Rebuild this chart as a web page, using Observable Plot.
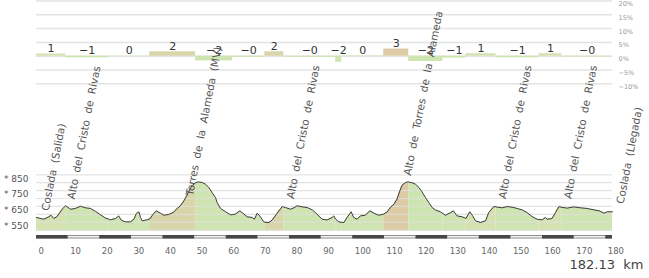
<!DOCTYPE html>
<html><head><meta charset="utf-8">
<script src="https://cdn.jsdelivr.net/npm/d3@7"></script>
<script src="https://cdn.jsdelivr.net/npm/@observablehq/plot@0.6"></script>
<style>
html,body{margin:0;padding:0;background:#fff;}
#chart{position:relative;width:649px;height:278px;overflow:hidden;}
#chart svg{position:absolute;left:0;top:0;}
</style></head><body><div id="chart"></div>
<script>
// ---- data ----
const totalKm = 182.13;
const profileKm = [0,2.3,3.9,4.6,5.5,6.5,8.1,9.2,9.7,10.8,12.3,13.9,15.5,17.1,18.7,20.2,21.8,22.8,23.4,25.0,26.0,26.8,28.1,29.7,30.8,31.6,32.4,32.9,33.4,34.5,35.8,36.9,37.9,39.2,40.3,41.8,43.2,44.5,45.5,46.6,47.6,48.5,49.2,50.3,51.3,52.4,53.4,54.5,55.5,56.6,57.1,58.2,59.8,61.3,62.0,62.9,64.3,65.6,66.6,68.2,68.9,69.8,70.6,71.9,72.2,73.5,74.5,76.1,77.7,78.2,78.7,80.3,81.4,82.4,84.0,85.6,87.2,88.7,90.3,91.9,93.5,94.0,94.6,95.6,96.5,97.2,98.2,99.5,100.3,101.4,102.4,104.0,105.4,106.7,108.2,109.8,110.9,111.9,113.0,114.0,114.9,115.6,116.7,117.4,117.7,118.5,119.8,120.9,121.9,123.0,124.0,125.1,126.1,127.7,128.5,129.3,131.0,131.8,133.0,134.6,135.8,137.0,137.8,138.8,140.4,142.0,143.0,144.6,145.3,145.7,147.3,148.8,150.4,152.0,153.6,155.1,156.7,158.3,158.9,159.9,160.9,161.5,163.0,164.1,165.2,166.1,167.8,169.9,172.0,174.1,176.3,177.9,179.5,180.5,182.13];
const profileElev = [580,569,584,594,573,586,632,654,647,632,637,651,641,637,618,597,576,570,565,573,590,563,552,552,569,605,616,580,559,563,570,601,622,607,594,599,611,637,654,685,721,759,780,801,805,801,791,770,738,706,675,637,616,597,598,601,622,601,584,580,569,607,590,552,550,548,563,607,649,646,643,632,641,654,647,643,628,601,569,564,580,590,569,552,549,548,580,616,580,569,590,594,622,607,594,601,616,643,664,696,749,784,801,805,804,801,791,770,742,706,675,643,628,616,605,594,611,622,590,584,574,616,594,559,548,559,611,649,647,645,641,649,645,637,628,611,586,569,567,565,580,569,573,611,649,644,639,647,641,637,628,622,607,616,616];
const areaBase = 493;

const segStart = [0,9.2,22.8,35.8,50.3,62.0,72.2,78.2,94.6,96.5,109.8,117.7,128.5,135.8,145.3,158.9,166.1];
const segEnd   = [9.2,22.8,35.8,50.3,62.0,72.2,78.2,94.6,96.5,109.8,117.7,128.5,135.8,145.3,158.9,166.1,182.13];
const segGrade = [0.8,-0.6,0.1,1.6,-1.7,-0.4,1.6,-0.4,-2.2,0.2,2.6,-1.9,-0.7,0.9,-0.6,0.9,-0.3];

const climbNames = ["Coslada  (Salida)","Alto  del  Cristo  de  Rivas","Torres  de  la  Alameda  (MV)","Alto  del  Cristo  de  Rivas","Alto  de  Torres  de  la  Alameda","Alto  del  Cristo  de  Rivas","Alto  del  Cristo  de  Rivas","Coslada  (Llegada)"];
const climbKm   = [2.8,11.0,48.4,80.3,117.3,147.3,168.0,184.6];
const climbElev = [624,696,719,700,846,700,700,668];

const elevGrid  = [500,550,600,650,700,750,800,850];
const elevTicks = [850,750,650,550];
const gradeTicks = [20,15,10,5,0,-5,-10];
const kmTicks = [0,10,20,30,40,50,60,70,80,90,100,110,120,130,140,150,160,170,180];

// ---- derived tables ----
const profile = profileKm.map((k,i)=>({km:k, elev:profileElev[i]}));
const segments = segStart.map((s,i)=>({start:s, end:segEnd[i], grade:segGrade[i], seg:i}));
const areaRows = segments.flatMap(s => profile.filter(p => p.km >= s.start-1e-9 && p.km <= s.end+1e-9).map(p => ({...p, seg:s.seg, grade:s.grade})));
const climbs = climbNames.map((n,i)=>({name:n, km:climbKm[i], elev:climbElev[i]}));
const barSegs = kmTicks.map((t,i)=>({a:t, b:Math.min(t+10,totalKm), dark:i%2===0}));

const colorOpts = {type:"threshold", domain:[0.5,1.5,2.5], range:["#cfe5b1","#d5e1af","#d8d5a8","#dccba4"]};
const gradeLabel = g => (g < 0 ? "\u2212" : "") + Math.abs(Math.round(g));
const pctLabel = d => (d < 0 ? "\u2212" : "") + Math.abs(d) + "%";
const font = "DejaVu Sans, sans-serif";
const W = 649, mL = 36, mR = 37;
const chart = document.getElementById("chart");

// ---- top: gradient panel ----
const gradePlot = Plot.plot({
  width: W, height: 90, marginLeft: mL, marginRight: mR, marginTop: 0.5, marginBottom: 6.7,
  x: {domain:[0,totalKm], axis:null},
  y: {domain:[-10,20], axis:null},
  color: colorOpts,
  style: {background:"transparent", fontFamily: font, overflow:"visible"},
  marks: [
    Plot.ruleY(gradeTicks, {y:d=>d, stroke:"#e3e3e3", strokeWidth:1.5}),
    Plot.rect(segments, {x1:"start", x2:"end", y1:0, y2:"grade", fill:"grade"}),
    Plot.text(segments, {x:d=>(d.start+d.end)/2, y:d=>Math.max(0,d.grade), text:d=>gradeLabel(d.grade), dy:-5.5, fontSize:11, fill:"#333"}),
    Plot.text(gradeTicks, {y:d=>d, text:pctLabel, frameAnchor:"right", textAnchor:"start", dx:6, dy:3, fontSize:6.5, fill:"#999"})
  ]
});

// ---- middle: elevation profile ----
const profilePlot = Plot.plot({
  width: W, height: 278, marginLeft: mL, marginRight: mR, marginTop: 174.3, marginBottom: 48.4,
  x: {domain:[0,totalKm], axis:null},
  y: {domain:[500,850], axis:null},
  color: colorOpts,
  style: {background:"transparent", fontFamily: font, overflow:"visible"},
  marks: [
    Plot.areaY(areaRows, {x:"km", y1:areaBase, y2:"elev", z:"seg", fill:"grade"}),
    Plot.ruleY(elevGrid, {y:d=>d, stroke:"#dedede", strokeOpacity:0.85, strokeWidth:1.2}),
    Plot.line(profile, {x:"km", y:"elev", stroke:"#3c3c3c", strokeWidth:1}),
    Plot.text(elevTicks, {y:d=>d, text:d=>"* "+d, frameAnchor:"left", textAnchor:"end", dx:-8, dy:4, fontSize:9, fill:"#555"}),
    Plot.text(climbs, {x:"km", y:"elev", text:"name", rotate:-79, textAnchor:"start", fontSize:10.5, fill:"#555"})
  ]
});

// ---- bottom: km bar ----
const kmPlot = Plot.plot({
  width: W, height: 278, marginLeft: mL, marginRight: mR, marginTop: 235, marginBottom: 39.5,
  x: {domain:[0,totalKm], axis:null},
  style: {background:"transparent", fontFamily: font, overflow:"visible"},
  marks: [
    Plot.rect(barSegs, {x1:"a", x2:"b", fill:"#8e8e8e"}),
    Plot.rect(barSegs.filter(d=>!d.dark), {x1:"a", x2:"b", fill:"#f4f4f4", insetTop:1, insetBottom:1}),
    Plot.rect(barSegs.filter(d=>d.dark), {x1:"a", x2:"b", fill:"#474747"}),
    Plot.text(kmTicks, {x:d=>d, text:d=>String(d), frameAnchor:"bottom", textAnchor:"start", dx:2, dy:14.5, fontSize:8.5, fill:"#666"}),
    Plot.text([totalKm], {x:d=>d, text:d=>d+"  km", frameAnchor:"bottom", textAnchor:"end", dx:31, dy:29.5, fontSize:13, fill:"#444"})
  ]
});

chart.append(gradePlot, kmPlot, profilePlot);
</script></body></html>
